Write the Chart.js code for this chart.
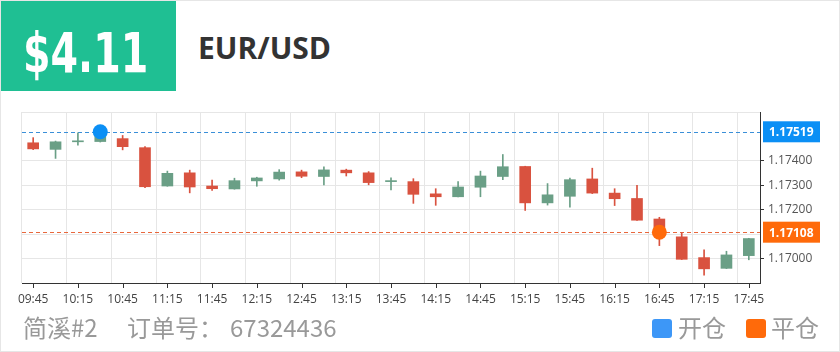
<!DOCTYPE html>
<html>
<head>
<meta charset="utf-8">
<script src="https://cdn.jsdelivr.net/npm/chart.js@4.4.1/dist/chart.umd.min.js"></script>
<style>
  html, body { margin: 0; padding: 0; background: #fff; }
  #card { position: relative; width: 840px; height: 352px; box-sizing: border-box; border: 1px solid #e6e6e6; overflow: hidden; }
  #kline { position: absolute; left: 0; top: 0; }
  #price { position: absolute; left: 0; top: 0; width: 175px; height: 90px; background: #1fbf93; overflow: hidden; }
  #price span { position: absolute; left: 22px; top: 25px; color: #fff; font: bold 55px "DejaVu Sans Condensed", "DejaVu Sans", sans-serif; line-height: 55px; white-space: nowrap; transform: scaleX(0.8); transform-origin: 0 0; }
  #pair { position: absolute; left: 197px; top: 32px; color: #333; font: bold 30px "Open Sans", sans-serif; line-height: 30px; }
  .foot { position: absolute; top: 314px; color: #999; font: 24px "Noto Sans CJK SC", sans-serif; line-height: 24px; }
  .sq { position: absolute; top: 318px; width: 20px; height: 19px; border-radius: 3px; }
</style>
</head>
<body>
<div id="card">
  <div id="price"><span>$4.11</span></div>
  <div id="pair">EUR/USD</div>
  <canvas id="kline" width="840" height="352"></canvas>
  <span class="foot" style="left:22px">简溪#2</span>
  <span class="foot" style="left:126px">订单号：</span>
  <span class="foot" style="left:229px">67324436</span>
  <span class="sq" style="left:651px;background:#3d97f7"></span>
  <span class="foot" style="left:677px">开仓</span>
  <span class="sq" style="left:745px;background:#ff6a0a"></span>
  <span class="foot" style="left:770px">平仓</span>
</div>
<script>
// 15 minute candles
const times = ['09:45','10:00','10:15','10:30','10:45','11:00','11:15','11:30','11:45','12:00','12:15','12:30','12:45',
  '13:00','13:15','13:30','13:45','14:00','14:15','14:30','14:45','15:00','15:15','15:30','15:45','16:00','16:15',
  '16:30','16:45','17:00','17:15','17:30','17:45'];
const opens = [1.17474,1.17447,1.17478,1.17479,1.17491,1.17454,1.17297,1.17351,1.17297,1.17285,1.17318,1.17326,1.17355,
  1.17336,1.17362,1.17351,1.17315,1.17315,1.17265,1.17253,1.17292,1.17336,1.17377,1.17228,1.17255,1.17326,1.17268,
  1.17246,1.17162,1.17089,1.17004,1.16960,1.17012];
const closes = [1.17449,1.17478,1.17480,1.17512,1.17458,1.17294,1.17349,1.17293,1.17286,1.17319,1.17330,1.17354,1.17337,
  1.17363,1.17351,1.17311,1.17317,1.17263,1.17253,1.17293,1.17338,1.17376,1.17228,1.17261,1.17323,1.17268,1.17245,
  1.17157,1.17111,1.16997,1.16958,1.17015,1.17082];
const highs = [1.17495,1.17481,1.17515,1.17522,1.17504,1.17458,1.17358,1.17362,1.17321,1.17329,1.17333,1.17364,1.17362,
  1.17376,1.17366,1.17356,1.17331,1.17327,1.17286,1.17315,1.17358,1.17426,1.17378,1.17307,1.17330,1.17370,1.17286,
  1.17300,1.17169,1.17106,1.17036,1.17030,1.17083];
const lows = [1.17446,1.17410,1.17464,1.17477,1.17445,1.17290,1.17296,1.17269,1.17279,1.17284,1.17296,1.17321,1.17331,
  1.17302,1.17338,1.17302,1.17281,1.17226,1.17218,1.17252,1.17253,1.17323,1.17197,1.17219,1.17210,1.17266,1.17217,
  1.17156,1.17053,1.16996,1.16932,1.16959,1.16995];
const yLabelTicks = [1.170, 1.172, 1.173, 1.174];
const hiddenGrid = [1.175];
const openPrice = 1.17519, openIndex = 3;
const closePrice = 1.17108, closeIndex = 28;

const UP = '#6a9f86', DOWN = '#d9523f';
const candleColors = opens.map((o, i) => closes[i] >= o ? UP : DOWN);
const near = (a, b) => Math.abs(a - b) < 1e-7;

const marks = [
  { value: openPrice, line: '#3a8fd8', box: '#0b8ff5' },
  { value: closePrice, line: '#e8673c', box: '#ff6a0a' }
];

const overlay = {
  id: 'overlay',
  beforeDatasetsDraw(chart) {
    const { ctx, chartArea, scales: { y } } = chart;
    marks.forEach(m => {
      const py = Math.round(y.getPixelForValue(m.value)) + 0.5;
      ctx.save();
      ctx.setLineDash([4, 3]);
      ctx.strokeStyle = m.line;
      ctx.lineWidth = 1;
      ctx.beginPath();
      ctx.moveTo(chartArea.left, py);
      ctx.lineTo(chartArea.right, py);
      ctx.stroke();
      ctx.restore();
    });
  },
  afterDraw(chart) {
    const { ctx, chartArea, scales: { x, y } } = chart;
    ctx.save();
    // x tick marks under the labels
    ctx.strokeStyle = '#333';
    ctx.lineWidth = 1;
    times.forEach((t, i) => {
      if (i % 2) return;
      const px = Math.round(x.getPixelForValue(i)) + 0.5;
      ctx.beginPath();
      ctx.moveTo(px, chartArea.bottom);
      ctx.lineTo(px, chartArea.bottom + 5);
      ctx.stroke();
    });
    // price tags on the right axis
    ctx.font = 'bold 12px "Open Sans", sans-serif';
    ctx.textBaseline = 'middle';
    marks.forEach(m => {
      const py = y.getPixelForValue(m.value);
      ctx.fillStyle = m.box;
      ctx.fillRect(chartArea.right + 3, py - 10.5, 57, 21);
      ctx.fillStyle = '#fff';
      ctx.fillText(m.value.toFixed(5), chartArea.right + 9, py + 1);
    });
    ctx.restore();
  }
};

new Chart(document.getElementById('kline'), {
  type: 'bar',
  data: {
    labels: times,
    datasets: [
      {
        type: 'line',
        data: times.map((t, i) => i === openIndex ? openPrice : i === closeIndex ? closePrice : null),
        showLine: false,
        pointRadius: 7.5,
        pointBorderWidth: 0,
        pointBackgroundColor: times.map((t, i) => i === openIndex ? '#0b8ff5' : '#ff6a0a'),
        order: 0
      },
      {
        data: opens.map((o, i) => [o, closes[i]]),
        backgroundColor: candleColors,
        barThickness: 11,
        minBarLength: 1,
        grouped: false,
        order: 1
      },
      {
        data: lows.map((l, i) => [l, highs[i]]),
        backgroundColor: candleColors,
        barThickness: 1,
        grouped: false,
        order: 2
      }
    ]
  },
  options: {
    responsive: false,
    animation: false,
    layout: { padding: { left: 21, top: 111, right: 0, bottom: 0 } },
    plugins: { legend: { display: false }, tooltip: { enabled: false } },
    scales: {
      x: {
        type: 'category',
        offset: true,
        afterFit: s => { s.height = 70; },
        border: { color: '#333', width: 1 },
        grid: {
          offset: true,
          drawTicks: false,
          color: ctx => ctx.index % 2 === 0 ? '#e6e6e6' : 'rgba(0,0,0,0)'
        },
        ticks: {
          autoSkip: false,
          maxRotation: 0,
          padding: 9,
          color: '#444',
          font: { family: 'Open Sans', size: 12 },
          callback: (v, i) => i % 2 === 0 ? times[i] : ''
        }
      },
      y: {
        position: 'right',
        min: 1.169,
        max: 1.176,
        afterFit: s => { s.width = 81; },
        border: { color: '#333', width: 1 },
        grid: {
          tickLength: 4,
          color: ctx => hiddenGrid.some(h => near(h, ctx.tick.value)) ? 'rgba(0,0,0,0)' : '#e6e6e6',
          tickColor: ctx => yLabelTicks.some(h => near(h, ctx.tick.value)) ? '#333' : 'rgba(0,0,0,0)'
        },
        ticks: {
          stepSize: 0.001,
          padding: 4,
          color: '#555',
          font: { family: 'Open Sans', size: 12 },
          callback: v => yLabelTicks.some(h => near(h, v)) ? v.toFixed(5) : ''
        }
      }
    }
  },
  plugins: [overlay]
});
</script>
</body>
</html>
